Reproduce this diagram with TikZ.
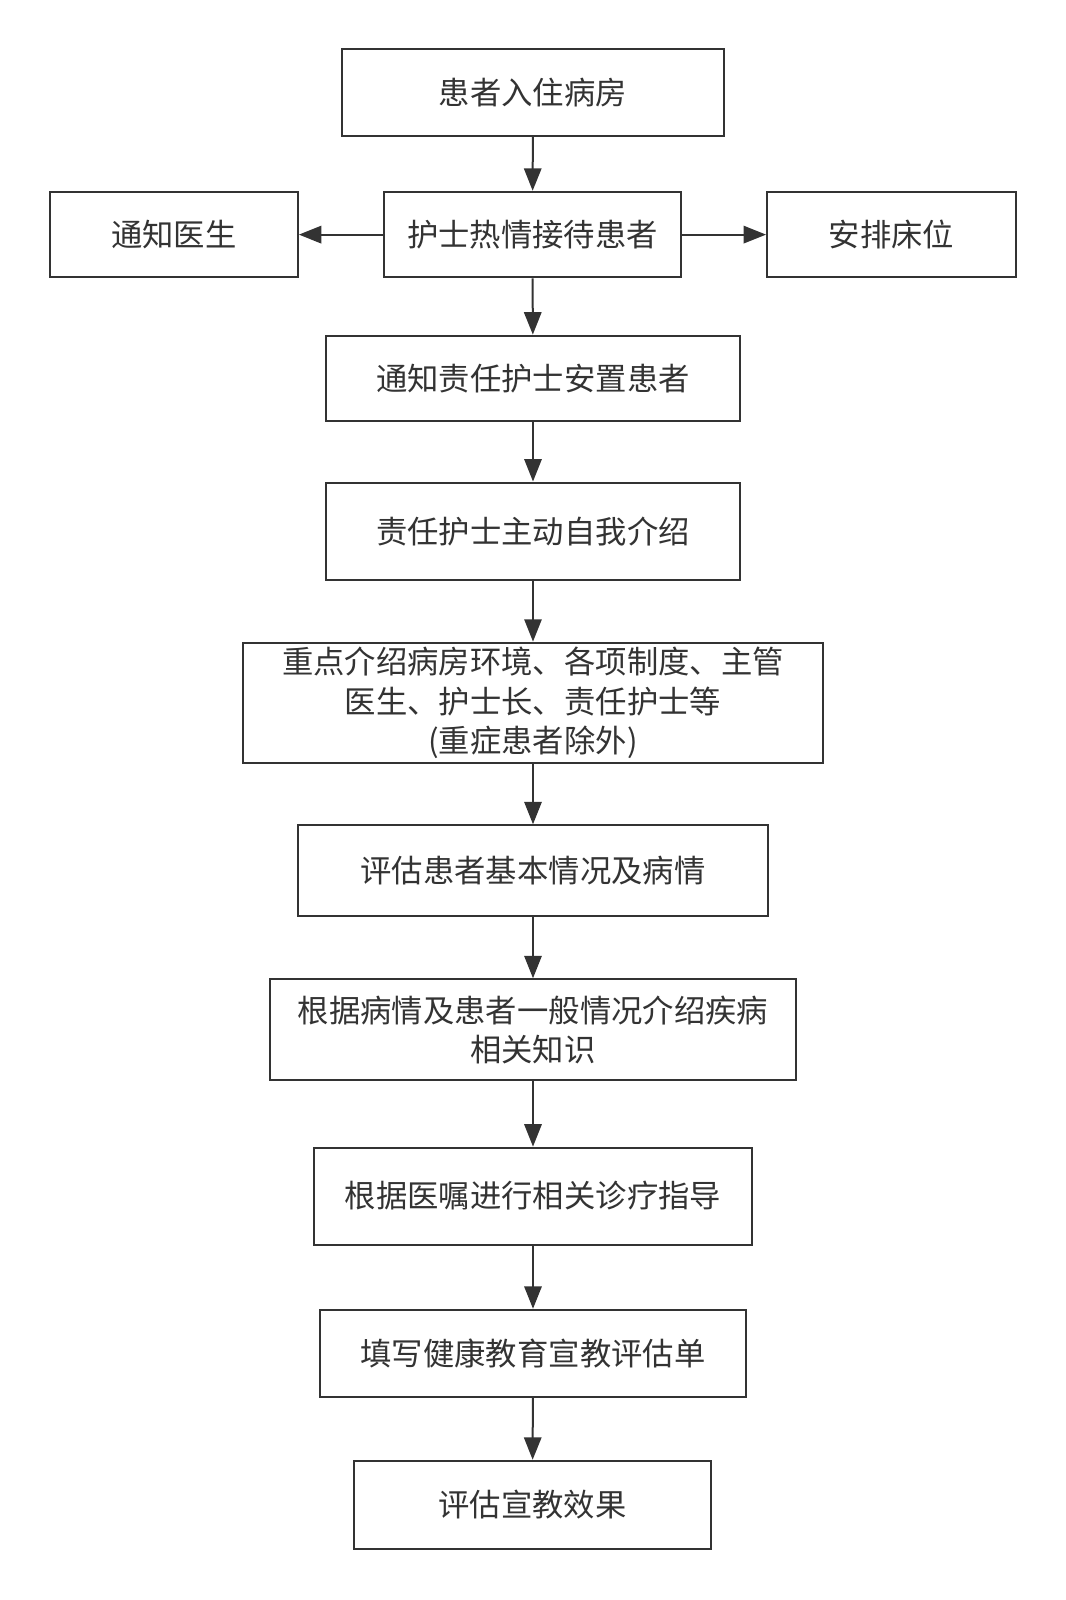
\documentclass[tikz,border=0pt]{standalone}
\usepackage{fontspec}
\newfontfamily\cjk{Noto Sans CJK SC}
\usetikzlibrary{arrows.meta}
\definecolor{ink}{HTML}{333333}
\begin{document}
\begin{tikzpicture}[
        x=0.765pt, y=-0.765pt, % координаты в пикселях
        cell/.style={draw=ink, line width=1.5pt, text=ink, align=center, inner sep=0pt,
                font=\cjk\fontsize{23.5pt}{29.5pt}\selectfont}, % Стиль узлов
        box/.style 2 args={cell, minimum width=#1*0.765pt, minimum height=#2*0.765pt},
        go/.style={draw=ink, line width=1.5pt, -{Triangle[length=16.8pt, width=13pt]}},
    ]
    \useasboundingbox (0,0) rectangle (1045,1568.5);

    \node[box={375}{85}] (ruzhu) at (522.5,90.5) {患者入住病房};
    \node[box={292}{84}] (jiedai) at (522,230) {护士热情接待患者};
    \node[box={243}{84}] (yisheng) at (170.5,230) {通知医生};
    \node[box={244}{84}] (chuangwei) at (874,230) {安排床位};
    \node[box={405}{84}] (anzhi) at (522.5,371) {通知责任护士安置患者};
    \node[box={405}{96}] (jieshao) at (522.5,521) {责任护士主动自我介绍};
    \node[box={569}{118}] (huanjing) at (522.5,689) {重点介绍病房环境、各项制度、主管\\医生、护士长、责任护士等\\(重症患者除外)};
    \node[box={461}{89}] (pinggu) at (522.5,853.5) {评估患者基本情况及病情};
    \node[box={515}{99}] (zhishi) at (522.5,1009.5) {根据病情及患者一般情况介绍疾病\\相关知识};
    \node[box={429}{95}] (zhidao) at (522.5,1172.5) {根据医嘱进行相关诊疗指导};
    \node[box={417}{85}] (tianxie) at (522.5,1326.5) {填写健康教育宣教评估单};
    \node[box={350}{86}] (xiaoguo) at (522,1475) {评估宣教效果};

    \draw[go] (ruzhu) -- (jiedai);
    \draw[go] (jiedai) -- (yisheng);
    \draw[go] (jiedai) -- (chuangwei);
    \draw[go] (jiedai) -- (anzhi);
    \draw[go] (anzhi) -- (jieshao);
    \draw[go] (jieshao) -- (huanjing);
    \draw[go] (huanjing) -- (pinggu);
    \draw[go] (pinggu) -- (zhishi);
    \draw[go] (zhishi) -- (zhidao);
    \draw[go] (zhidao) -- (tianxie);
    \draw[go] (tianxie) -- (xiaoguo);

\end{tikzpicture}
\end{document}
